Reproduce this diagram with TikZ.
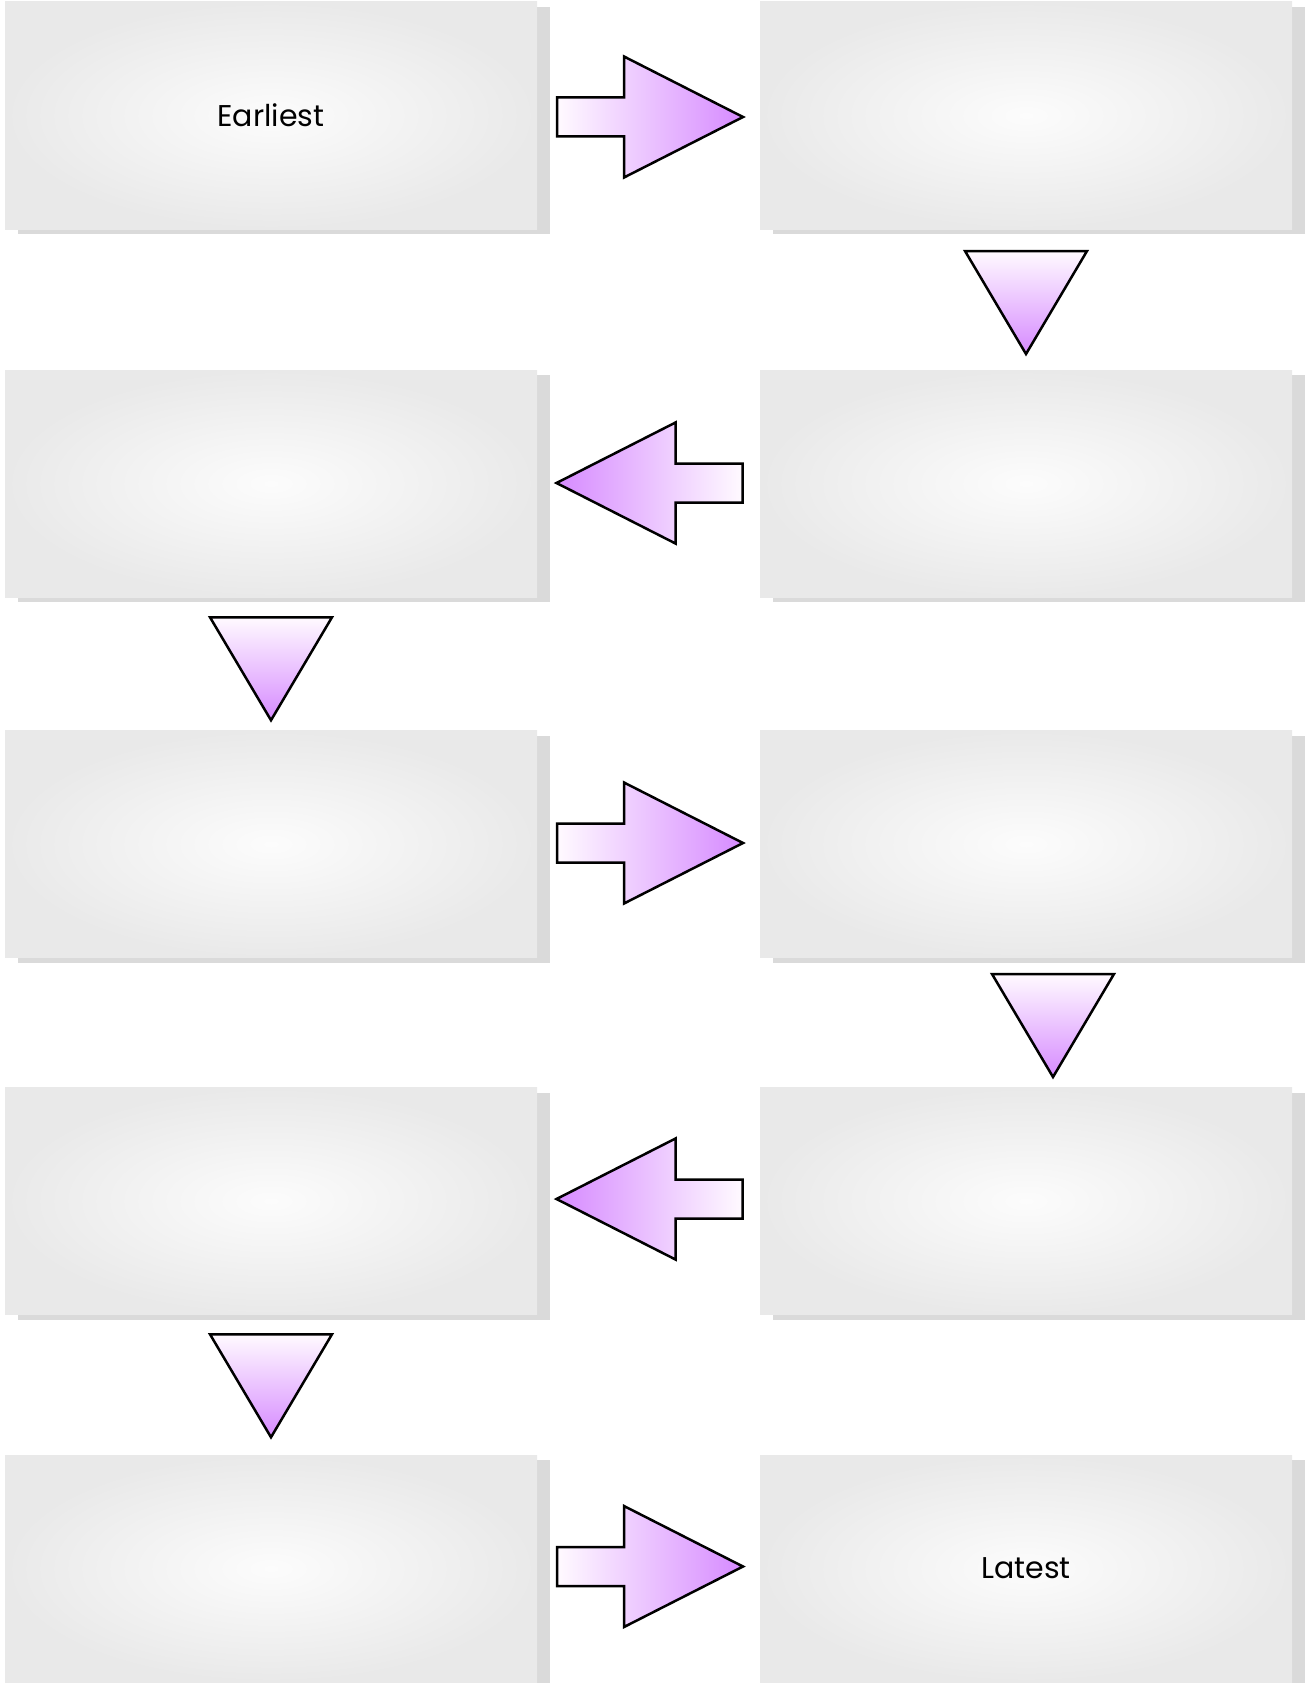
\documentclass[tikz,border=0pt]{standalone}
\usepackage{fontspec}
\setmainfont{Poppins}
\usetikzlibrary{calc,shadows}
\definecolor{boxin}{RGB}{252,252,252}
\definecolor{boxout}{RGB}{233,233,233}
\definecolor{shadowc}{RGB}{218,218,218}
\definecolor{violetA}{RGB}{255,250,255}
\definecolor{violetB}{RGB}{214,138,255}
\tikzset{
  stepbox/.style={rectangle, minimum width=532pt, minimum height=227pt, inner sep=0pt,
    shade, inner color=boxin, outer color=boxout, text=black,
    font=\fontsize{30}{36}\selectfont,
    drop shadow={shadow xshift=13pt, shadow yshift=-5pt, fill=shadowc, opacity=1}},
  arrowline/.style={draw=black, line width=2.5pt, line join=miter},
  rfill/.style={arrowline, left color=violetA, right color=violetB},
  lfill/.style={arrowline, left color=violetB, right color=violetA},
  dfill/.style={arrowline, top color=violetA, bottom color=violetB},
  rarrowpic/.pic={\path[rfill] (-93,-19.5) -- (-26,-19.5) -- (-26,-60.5) -- (93,0) -- (-26,60.5) -- (-26,19.5) -- (-93,19.5) -- cycle;},
  larrowpic/.pic={\path[lfill] (93,-19.5) -- (26,-19.5) -- (26,-60.5) -- (-93,0) -- (26,60.5) -- (26,19.5) -- (93,19.5) -- cycle;},
  dtripic/.pic={\path[dfill] (-61,-51.5) -- (61,-51.5) -- (0,51.5) -- cycle;}
}
\begin{document}
\begin{tikzpicture}[x=1pt,y=-1pt]
\useasboundingbox[fill=white] (0,0) rectangle (1307,1683);
\node[stepbox] (b1) at (271,115.5) {Earliest};
\node[stepbox] (b2) at (1026,115.5) {};
\node[stepbox] (b3) at (271,483.5) {};
\node[stepbox] (b4) at (1026,483.5) {};
\node[stepbox] (b5) at (271,844) {};
\node[stepbox] (b6) at (1026,844) {};
\node[stepbox] (b7) at (271,1201) {};
\node[stepbox] (b8) at (1026,1201) {};
\node[stepbox] (b9) at (271,1568.5) {};
\node[stepbox] (b10) at (1026,1568.5) {Latest};
% horizontal block arrows
\path ($(b1.east)!0.5!(b2.west)+(1.5,1.5)$) pic {rarrowpic};
\path ($(b4.west)!0.5!(b3.east)+(1,-0.5)$) pic {larrowpic};
\path ($(b5.east)!0.5!(b6.west)+(1.5,-1)$) pic {rarrowpic};
\path ($(b8.west)!0.5!(b7.east)+(1,-2)$) pic {larrowpic};
\path ($(b9.east)!0.5!(b10.west)+(1.5,-2)$) pic {rarrowpic};
% downward triangles
\path ($(b2.south)!0.5!(b4.north)+(0,3)$) pic {dtripic};
\path ($(b3.south)!0.5!(b5.north)+(0,5)$) pic {dtripic};
\path ($(b6.south)!0.5!(b8.north)+(27,3)$) pic {dtripic};
\path ($(b7.south)!0.5!(b9.north)+(0,1)$) pic {dtripic};
\end{tikzpicture}
\end{document}
